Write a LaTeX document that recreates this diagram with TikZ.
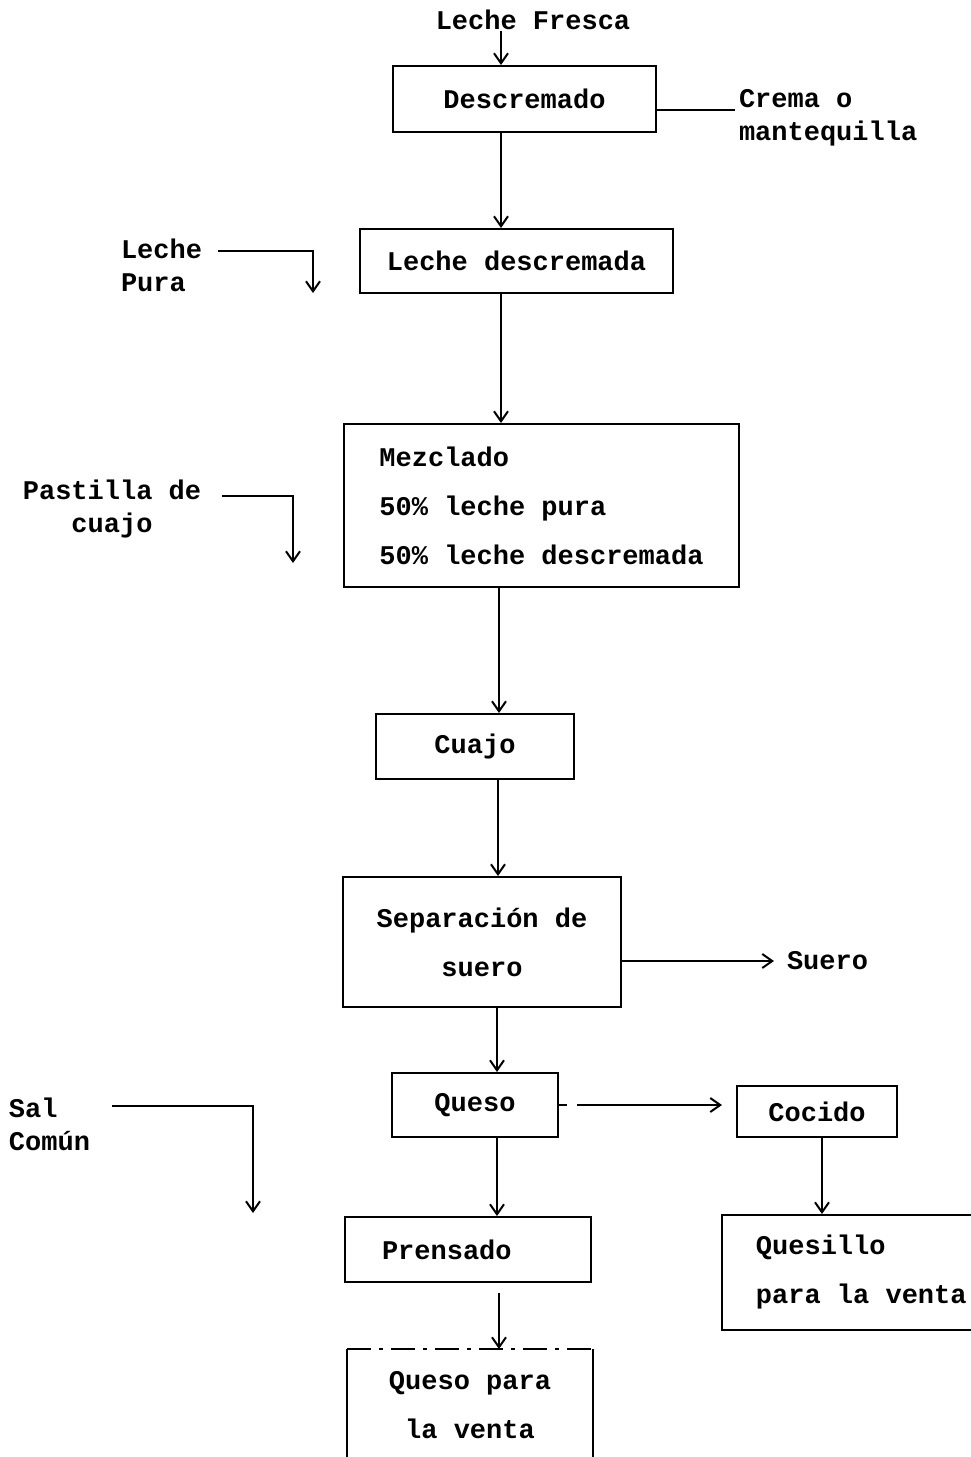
\documentclass[tikz,border=0pt]{standalone}
\usepackage{fontspec}
\setmonofont{Liberation Mono}
\usetikzlibrary{arrows.meta,positioning}

\begin{document}
\begin{tikzpicture}[x=0.5pt,y=-0.5pt,>={Straight Barb[length=5pt,width=7pt]},line width=1pt,
every node/.style={font=\ttfamily\bfseries\fontsize{13.5pt}{24.5pt}\selectfont},
box/.style={draw,align=center,inner sep=0pt},
lbox/.style={draw,align=left,inner sep=0pt},
lbl/.style={align=left,inner sep=0pt,font=\ttfamily\bfseries\fontsize{13.5pt}{16.5pt}\selectfont}]
\useasboundingbox (0,0) rectangle (970,1457);
\coordinate (spine) at (501,0);
% main column
\node[lbl] (fresca) at (533,20) {Leche Fresca};
\node[box,minimum width=131.5pt,minimum height=33pt] (desc) at (524.5,99) {Descremado};
\node[box,minimum width=156.5pt,minimum height=32pt] (lechd) at (516.5,261) {Leche descremada};
\node[lbox,minimum width=197.5pt,minimum height=81.5pt] (mezcla) at (541.5,505.5) {Mezclado\\50\% leche pura\\50\% leche descremada};
\node[box,minimum width=99pt,minimum height=32.5pt] (cuajo) at (475,746.5) {Cuajo};
\node[box,minimum width=139pt,minimum height=65pt] (sep) at (482,942) {Separación de\\suero};
\node[box,minimum width=83pt,minimum height=32pt] (queso) at (475,1105) {Queso};
\node[draw,align=left,text width=86pt,inner xsep=18.5pt,inner ysep=0pt,minimum height=32.5pt] (prens) at (468,1249.5) {Prensado};
\node[align=center,minimum width=122pt,minimum height=55pt,inner sep=0pt] (venta) at (470,1405) {Queso para\\la venta};
% right side
\node[box,minimum width=80pt,minimum height=25.5pt] (cocido) at (817,1111.5) {Cocido};
\node[lbox,minimum width=139.3pt,minimum height=57.5pt] (quesillo) at (861.3,1272.5) {Quesillo\\para la venta};
\node[lbl,anchor=west] (crema) at (738,118) {Crema o\\mantequilla};
\node[lbl,anchor=west] (suero) at (786,961) {Suero};
% inputs
\node[lbl,anchor=west] (pura) at (120,265) {Leche\\Pura};
\node[lbl,align=center] (pastilla) at (112,509) {Pastilla de\\cuajo};
\node[lbl,anchor=west] (sal) at (8,1124) {Sal\\Común};
\coordinate (puraA) at (218,251); \coordinate (puraB) at (313,293);
\coordinate (pastA) at (222,496); \coordinate (pastB) at (293,563);
\coordinate (salA) at (112,1106); \coordinate (salB) at (253,1213);
\draw[->] (fresca.south -| spine)--(desc.north -| spine);
\draw ([yshift=-5.5pt]desc.east)--([yshift=-5.5pt,xshift=-1.5pt]desc.east -| crema.west);
\draw[->] (desc.south -| spine)--(lechd.north -| spine);
\draw[->] (lechd.south -| spine)--(mezcla.north -| spine);
\draw[->] ([xshift=-1pt]mezcla.south -| spine)--([xshift=-1pt]cuajo.north -| spine);
\draw[->] ([xshift=-1.5pt]cuajo.south -| spine)--([xshift=-1.5pt]sep.north -| spine);
\draw[->] (sep.east |- suero.west)--([xshift=-6pt]suero.west);
\draw[->] ([xshift=-2pt]sep.south -| spine)--([xshift=-2pt]queso.north -| spine);
\draw[->,dash pattern=on 4pt off 5pt on 200pt] (queso.east)--([xshift=-7pt]queso.east -| cocido.west);
\draw[->] ([xshift=-2pt]queso.south -| spine)--([xshift=-2pt]prens.north -| spine);
\draw[->] ([xshift=2.5pt]cocido.south)--([xshift=2.5pt]cocido.south |- quesillo.north);
\draw[->] ([yshift=-5pt,xshift=-1pt]prens.south -| spine)--([xshift=-1pt]venta.north -| spine);
\draw[dash pattern=on 12pt off 4pt on 2pt off 4pt] (venta.north west)--(venta.north east);
\draw (venta.north west)--(venta.south west);
\draw (venta.north east)--(venta.south east);
\draw[->] (puraA)-|(puraB);
\draw[->] (pastA)-|(pastB);
\draw[->] (salA)-|(salB);
\end{tikzpicture}
\end{document}
